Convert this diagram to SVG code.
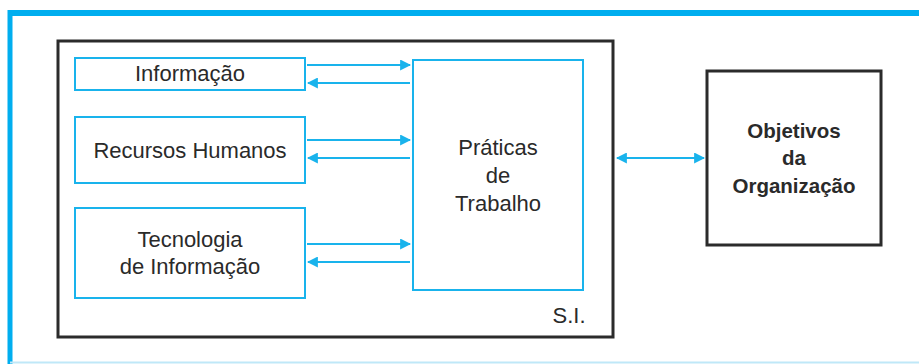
<svg xmlns="http://www.w3.org/2000/svg" width="919" height="364" viewBox="0 0 919 364">
<defs>
<style>
.frame{fill:none;stroke:#00aeef}
.black{fill:#fff;stroke:#2b2b2b;stroke-width:3}
.blue{fill:#fff;stroke:#19b3ec;stroke-width:2}
.t{font-family:"Liberation Sans",Arial,sans-serif;font-size:22px;fill:#2a2a2a;text-anchor:middle}
.b{font-weight:bold;font-size:20.5px}
.c{stroke:#19b3ec;stroke-width:2;fill:none}
</style>
<marker id="ah" viewBox="0 0 10 10" refX="9" refY="5" markerWidth="11" markerHeight="11" markerUnits="userSpaceOnUse" orient="auto-start-reverse">
<path d="M0,0 L10,5 L0,10 z" fill="#19b3ec"/>
</marker>
</defs>
<rect x="0" y="0" width="919" height="364" fill="#fff"/>
<g id="frame">
<line x1="10" y1="13" x2="919" y2="13" stroke="#00aeef" stroke-width="6"/>
<line x1="10" y1="10" x2="10" y2="364" stroke="#00aeef" stroke-width="5"/>
<line x1="10" y1="362.5" x2="919" y2="362.5" stroke="#bfe8f8" stroke-width="2"/>
</g>
<g id="si">
<rect class="black" x="58" y="41" width="555" height="296"/>
<text class="t" x="569" y="323">S.I.</text>
</g>
<g id="informacao">
<rect class="blue" x="75" y="58" width="230" height="32"/>
<text class="t" x="190" y="81">Informação</text>
</g>
<g id="recursos">
<rect class="blue" x="75" y="117" width="230" height="66"/>
<text class="t" x="190" y="158">Recursos Humanos</text>
</g>
<g id="tecnologia">
<rect class="blue" x="75" y="208" width="230" height="90"/>
<text class="t" x="190" y="247">Tecnologia</text>
<text class="t" x="190" y="274">de Informação</text>
</g>
<g id="praticas">
<rect class="blue" x="413" y="60" width="170" height="230"/>
<text class="t" x="498" y="155">Práticas</text>
<text class="t" x="498" y="183">de</text>
<text class="t" x="498" y="211">Trabalho</text>
</g>
<g id="objetivos">
<rect class="black" x="707" y="71" width="174" height="174"/>
<text class="t b" x="794" y="138">Objetivos</text>
<text class="t b" x="794" y="165">da</text>
<text class="t b" x="794" y="193">Organização</text>
</g>
<g id="connectors">
<line class="c" x1="307" y1="65" x2="410" y2="65" marker-end="url(#ah)"/>
<line class="c" x1="410" y1="83" x2="308" y2="83" marker-end="url(#ah)"/>
<line class="c" x1="307" y1="140" x2="410" y2="140" marker-end="url(#ah)"/>
<line class="c" x1="410" y1="158" x2="308" y2="158" marker-end="url(#ah)"/>
<line class="c" x1="307" y1="244" x2="410" y2="244" marker-end="url(#ah)"/>
<line class="c" x1="410" y1="262" x2="308" y2="262" marker-end="url(#ah)"/>
<line class="c" x1="617" y1="158" x2="704" y2="158" marker-start="url(#ah)" marker-end="url(#ah)"/>
</g>
</svg>
